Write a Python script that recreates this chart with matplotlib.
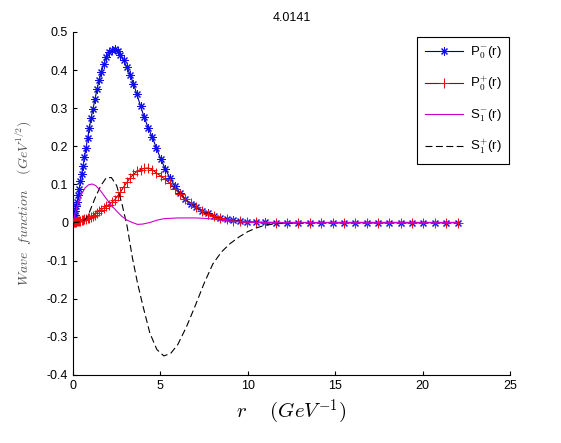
import matplotlib
matplotlib.use("Agg")
import matplotlib.pyplot as plt

plt.rcParams['font.family'] = ['Liberation Sans', 'DejaVu Sans']
plt.rcParams['mathtext.fontset'] = 'cm'
plt.rcParams['lines.scale_dashes'] = False

# r grid of the P-wave curves (markers drawn at each point)
r_p = [0, 0.03, 0.06, 0.10, 0.14, 0.19, 0.24, 0.30, 0.36, 0.43, 0.50, 0.58, 0.66, 0.75,
       0.84, 0.94, 1.04, 1.15, 1.26, 1.38, 1.50, 1.63, 1.77, 1.91, 2.06, 2.22, 2.38, 2.55,
       2.72, 2.90, 3.08, 3.27, 3.46, 3.66, 3.87, 4.08, 4.30, 4.53, 4.77, 5.02, 5.28, 5.55,
       5.83, 6.12, 6.42, 6.73, 7.05, 7.38, 7.72, 8.07, 8.43, 8.80, 9.18, 9.57, 9.97, 10.45,
       11.00, 11.60, 12.25, 12.90, 13.55, 14.20, 14.85, 15.50, 16.15, 16.80, 17.45, 18.10,
       18.75, 19.40, 20.05, 20.70, 21.35, 22.00]

p0_minus = [0, .006, .012, .021, .030, .042, .055, .071, .088, .108, .127, .149, .171, .196,
            .221, .248, .274, .299, .323, .350, .373, .395, .416, .434, .446, .453, .455, .450,
            .439, .425, .408, .388, .364, .336, .305, .276, .249, .225, .196, .167, .141, .117,
            .096, .078, .061, .049, .040, .031, .024, .017, .012, .008, .006, .004, .002, .001,
            .0005, 0, 0, 0, 0, 0, 0, 0, 0, 0, 0, 0, 0, 0, 0, 0, 0, 0]

p0_plus = [0, 0, .001, .001, .002, .002, .003, .003, .004, .005, .006, .007, .008, .010,
           .011, .013, .015, .018, .021, .026, .030, .034, .038, .042, .047, .053, .059, .069,
           .080, .093, .105, .117, .126, .134, .139, .142, .143, .139, .130, .122, .113, .103,
           .089, .074, .061, .051, .041, .031, .023, .016, .011, .008, .005, .003, .001, .0005,
           0, 0, 0, 0, 0, 0, 0, 0, 0, 0, 0, 0, 0, 0, 0, 0, 0, 0]

# r grid of the S-wave curves (lines only)
r_s = [0, 0.15, 0.3, 0.5, 0.7, 0.9, 1.1, 1.3, 1.6, 1.9, 2.2, 2.5, 2.8, 3.1, 3.4, 3.7, 4.0,
       4.4, 4.8, 5.2, 5.6, 6.0, 6.5, 7.0, 7.5, 8.0, 8.5, 9.0, 9.5, 10.0, 10.5, 11.0, 11.5,
       12.0, 13.0, 14.0, 16.0, 18.0, 20.0, 22.0]

s1_minus = [0, .028, .052, .075, .091, .099, .101, .097, .082, .063, .045, .030, .016, .006,
            .000, -.005, -.004, .000, .006, .010, .011, .012, .012, .012, .011, .009, .006,
            .004, .002, .001, 0, 0, 0, 0, 0, 0, 0, 0, 0, 0]

s1_plus = [0, 0, .001, .003, .008, .022, .045, .068, .097, .117, .118, .097, .050, -.010,
           -.092, -.160, -.218, -.290, -.333, -.350, -.343, -.320, -.273, -.218, -.160, -.109,
           -.077, -.055, -.038, -.024, -.014, -.007, -.004, -.002, -.001, 0, 0, 0, 0, 0]

fig = plt.figure(figsize=(5.61, 4.43), dpi=100)
ax = fig.add_axes([0.130, 0.1535, 0.779, 0.7745])

ax.plot(r_p, p0_minus, color='#000080', lw=0.8, marker=(8, 2, 0), ms=5.8,
        mec='#1010ee', mew=0.75, label=r'P$_0^{-}$(r)', zorder=2)
ax.plot(r_p, p0_plus, color='#a00000', lw=0.8, marker='+', ms=6.5,
        mec='#ee1010', mew=0.75, label=r'P$_0^{+}$(r)', zorder=2)
ax.plot(r_s, s1_minus, color='#cc00cc', lw=0.8, label=r'S$_1^{-}$(r)', zorder=3)
ax.plot(r_s, s1_plus, color='black', lw=0.8, dashes=(5, 2.5), label=r'S$_1^{+}$(r)', zorder=2.5)

ax.set_xlim(0, 25)
ax.set_ylim(-0.4, 0.5)
ax.set_xticks([0, 5, 10, 15, 20, 25])
ax.set_yticks([-0.4, -0.3, -0.2, -0.1, 0, 0.1, 0.2, 0.3, 0.4, 0.5])
ax.set_yticklabels(['-0.4', '-0.3', '-0.2', '-0.1', '0', '0.1', '0.2', '0.3', '0.4', '0.5'])
ax.tick_params(direction='in', length=3, labelsize=9, width=0.8)
ax.spines['top'].set_visible(False)
ax.spines['right'].set_visible(False)

ax.set_title('4.0141', fontsize=9, pad=8)
ax.set_xlabel(r'$r \quad\  (GeV^{-1})$', fontsize=15, labelpad=4)
ax.set_ylabel(r'$Wave\ \ function\ \ \ \ (GeV^{1/2})$', fontsize=10, color='#555555', labelpad=10)

leg = ax.legend(loc='upper left', bbox_to_anchor=(0.743, 0.9165), bbox_transform=fig.transFigure,
                borderaxespad=0, fontsize=9.5, numpoints=1, handlelength=2.9, handletextpad=0.5,
                labelspacing=1.05, fancybox=False, edgecolor='black', framealpha=1, borderpad=0.6)
leg.get_frame().set_linewidth(0.8)

fig.savefig('out.png', dpi=100)
